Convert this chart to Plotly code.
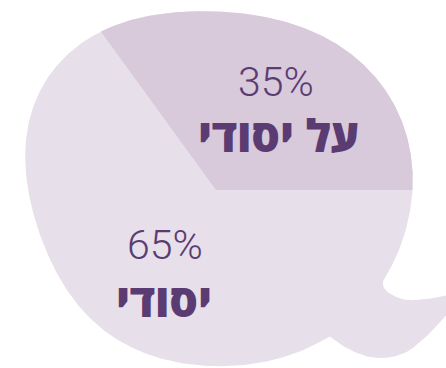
import numpy as np
import plotly.graph_objects as go

# Share of each group (percent)
labels = ["על יסודי", "יסודי"]
values = [35, 65]
slice_colors = ["#d8c9db", "#e7dfe9"]
text_color = "#5b3c72"

W, H = 446, 368
center = np.array([216.0, 190.0])

# Speech-bubble outline ("Q" shape): round body plus a tail at the lower right
body_pts = np.array([
    (400, 247), (410, 213), (412, 190), (412, 167),
    (406, 133), (392, 100), (367, 67), (336, 45), (305, 29), (260, 15),
    (217, 11), (150, 17), (103, 31), (67, 53), (43, 83), (33, 110),
    (27, 147), (27, 173), (30, 207), (40, 240), (58, 273), (82, 307),
    (113, 339), (133, 348), (167, 360), (210, 366), (260, 362), (300, 352),
], dtype=float)
tail_pts = [
    (330, 337), (343, 346), (357, 353), (370, 357), (383, 358), (396, 356),
    (410, 350), (430, 333), (446, 315), (458, 302), (456, 294), (446, 296),
    (427, 299), (407, 300), (392, 295), (384, 288), (379, 279),
]


def polar(pts):
    d = np.asarray(pts, dtype=float) - center
    return np.arctan2(-d[:, 1], d[:, 0]), np.hypot(d[:, 0], d[:, 1])


def design(t, order=5):
    cols = [np.ones_like(t)]
    for k in range(1, order + 1):
        cols += [np.cos(k * t), np.sin(k * t)]
    return np.column_stack(cols)


# Smooth body: least-squares Fourier fit of radius against angle
bt, br = polar(body_pts)
coef, *_ = np.linalg.lstsq(design(bt), br, rcond=None)


def body_xy(t):
    rr = design(np.atleast_1d(t)) @ coef
    return np.column_stack([center[0] + rr * np.cos(t), center[1] - rr * np.sin(t)])


def catmull_rom(points, n=24):
    p = np.asarray(points, dtype=float)
    p = np.vstack([p[0], p, p[-1]])
    out = []
    for i in range(1, len(p) - 2):
        p0, p1, p2, p3 = p[i - 1], p[i], p[i + 1], p[i + 2]
        t = np.linspace(0, 1, n, endpoint=False)[:, None]
        out.append(0.5 * ((2 * p1) + (-p0 + p2) * t
                          + (2 * p0 - 5 * p1 + 4 * p2 - p3) * t ** 2
                          + (-p0 + 3 * p1 - 3 * p2 + p3) * t ** 3))
    out.append(p[-2][None, :])
    return np.vstack(out)


# Body runs counter-clockwise from the tail's upper joint to its lower joint
t_start = polar([tail_pts[-1]])[0][0]
t_end = polar([tail_pts[0]])[0][0] + 2 * np.pi
body = body_xy(np.linspace(t_start, t_end, 600))
tail = tail_pts.copy()
tail[0] = tuple(body[-1])
tail[-1] = tuple(body[0])
outline = np.vstack([body, catmull_rom(tail)[1:]])

# First slice starts at 3 o'clock and sweeps counter-clockwise
total = sum(values)
sweep = 2 * np.pi * values[0] / total
sl = body_xy(np.linspace(0.0, sweep, 300))
slice_x = np.concatenate([[center[0]], sl[:, 0], [center[0]]])
slice_y = np.concatenate([[center[1]], sl[:, 1], [center[1]]])

fig = go.Figure()
# Whole bubble carries the second (larger) slice colour
fig.add_trace(go.Scatter(
    x=outline[:, 0], y=outline[:, 1], mode="lines", fill="toself",
    fillcolor=slice_colors[1], line=dict(width=0, color=slice_colors[1]),
    hoverinfo="skip", showlegend=False,
))
fig.add_trace(go.Scatter(
    x=slice_x, y=slice_y, mode="lines", fill="toself",
    fillcolor=slice_colors[0], line=dict(width=0, color=slice_colors[0]),
    hoverinfo="skip", showlegend=False,
))

pct_font = dict(family="Roboto", size=41, color=text_color, weight=300)
name_font = dict(family="Open Sans", size=45, color=text_color, weight=800)
label_pos = [(276, 82, 278, 134), (165, 245, 164, 299)]
for (px, py, nx, ny), lab, val in zip(label_pos, labels, values):
    fig.add_annotation(x=px, y=py, xref="x", yref="y", text=f"{val}%",
                       showarrow=False, font=pct_font,
                       xanchor="center", yanchor="middle")
    fig.add_annotation(x=nx, y=ny, xref="x", yref="y", text=lab,
                       showarrow=False, font=name_font,
                       xanchor="center", yanchor="middle")

fig.update_layout(
    width=W, height=H, margin=dict(l=0, r=0, t=0, b=0),
    paper_bgcolor="white", plot_bgcolor="white",
    xaxis=dict(range=[0, W], visible=False, fixedrange=True),
    yaxis=dict(range=[H, 0], visible=False, fixedrange=True),
    showlegend=False,
)
fig.write_html("out.html")
